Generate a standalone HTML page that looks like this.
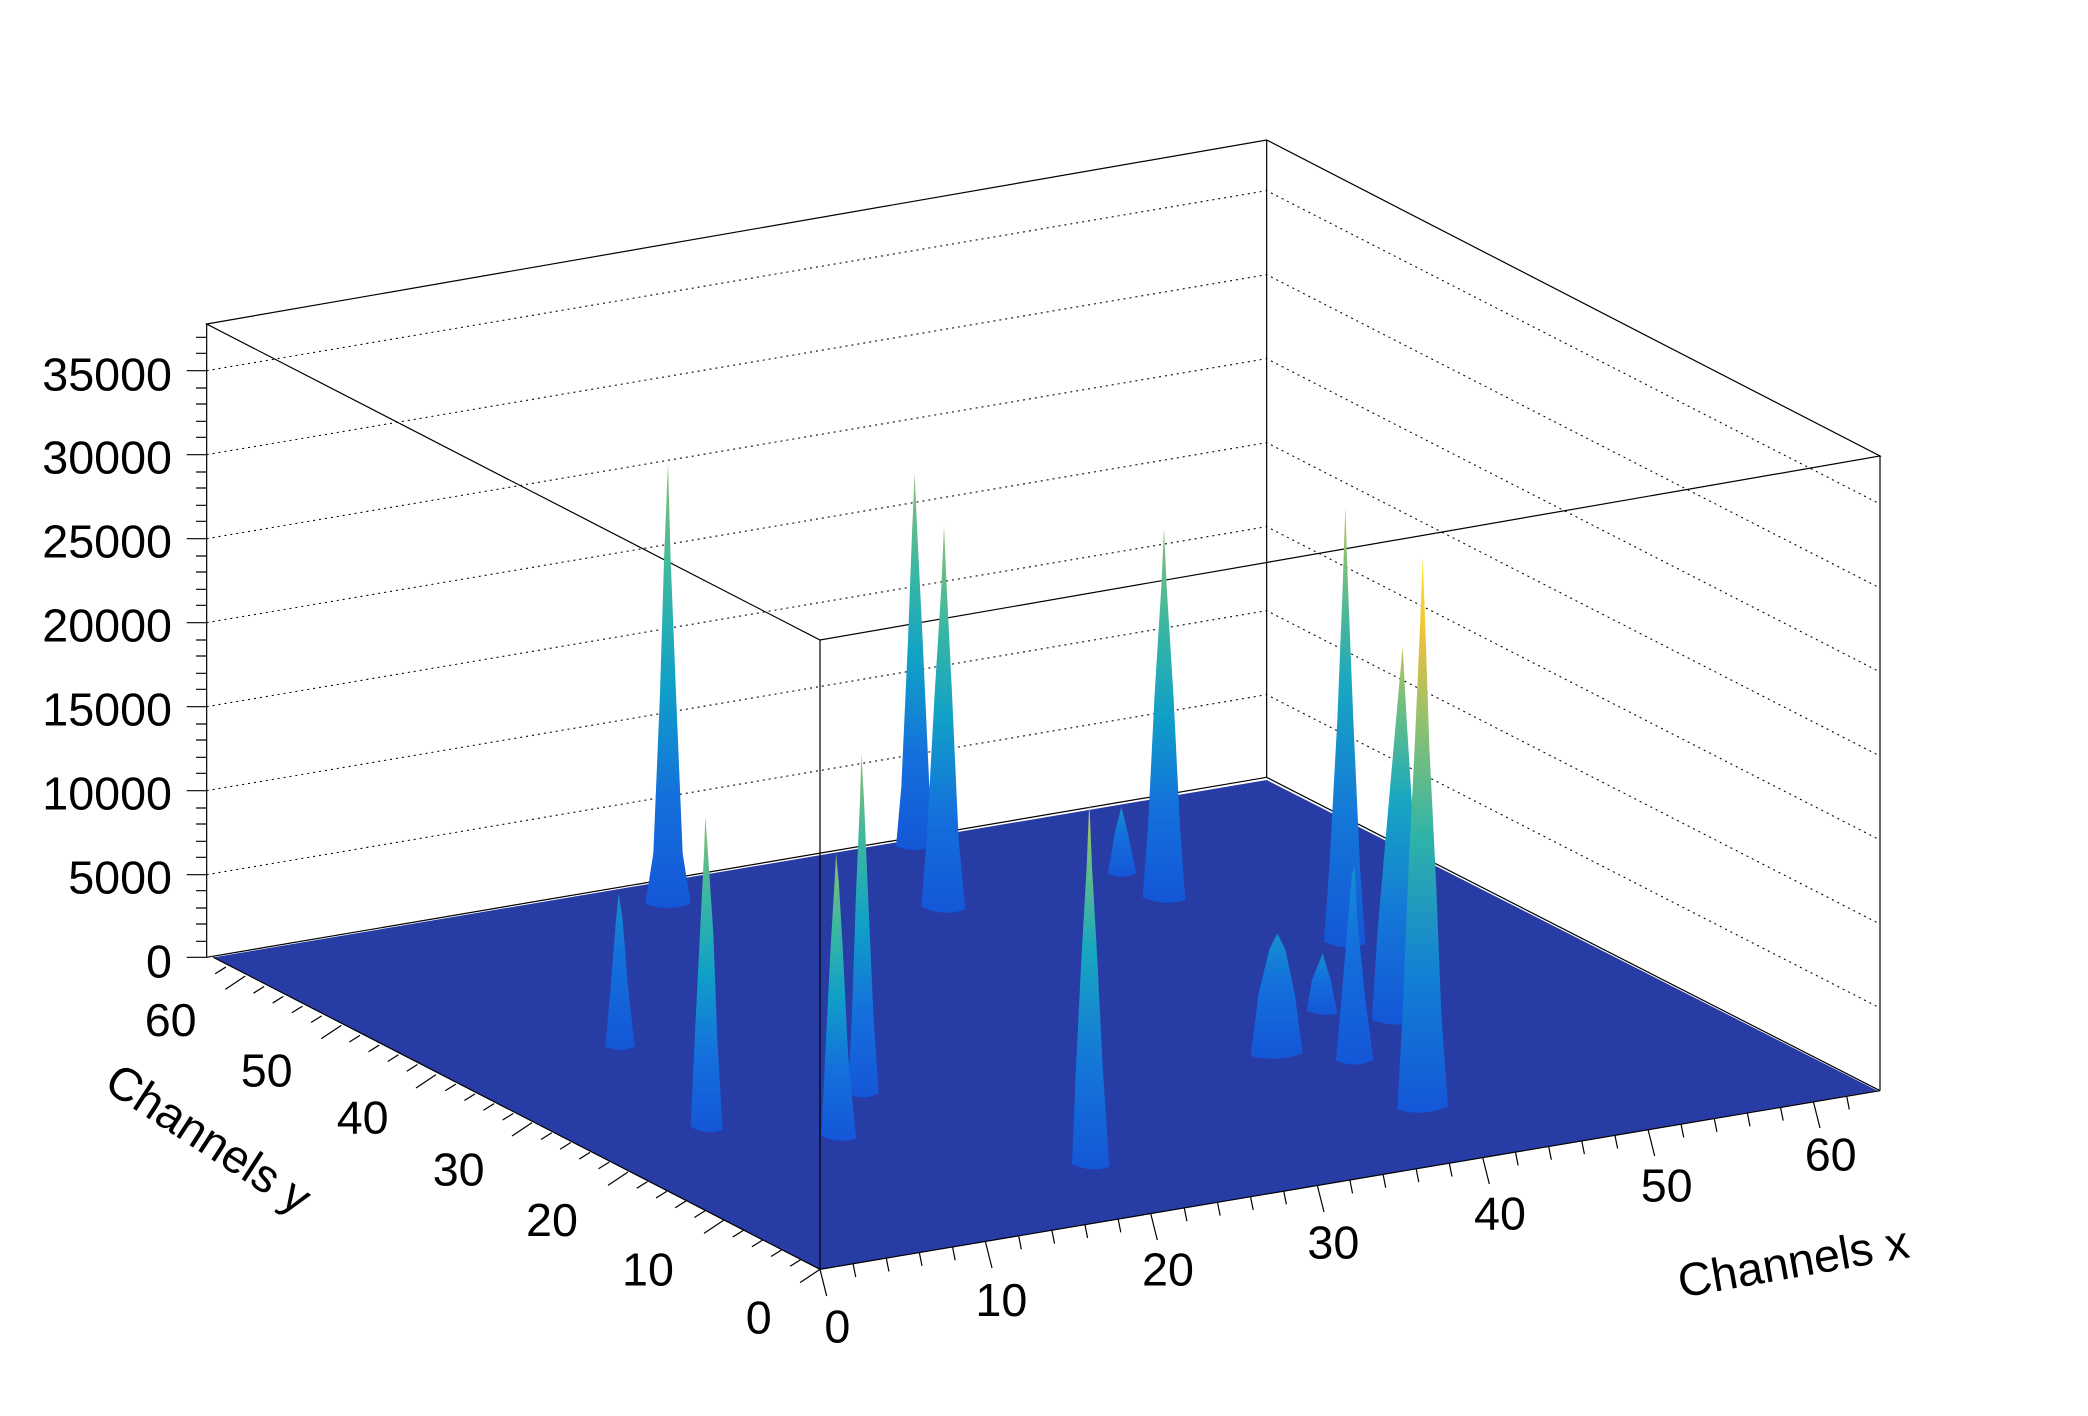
<!DOCTYPE html>
<html><head><meta charset="utf-8"><style>
html,body{margin:0;padding:0;background:#fff;}
svg{display:block;}
text{font-family:"Liberation Sans",Arial,sans-serif;fill:#000;}
</style></head><body>
<svg width="2088" height="1416" viewBox="0 0 1566 1062" preserveAspectRatio="none" xmlns="http://www.w3.org/2000/svg">
<defs>
<linearGradient id="g1" x1="0" y1="1" x2="0" y2="0">
<stop offset="0" stop-color="#1456d8"/><stop offset="0.25" stop-color="#1470dc"/><stop offset="0.5" stop-color="#10a0c8"/><stop offset="0.75" stop-color="#3cb8a0"/><stop offset="1" stop-color="#8cc070"/></linearGradient>
<linearGradient id="g2" x1="0" y1="1" x2="0" y2="0">
<stop offset="0" stop-color="#1456d8"/><stop offset="0.3" stop-color="#1478d8"/><stop offset="0.6" stop-color="#18a8c0"/><stop offset="0.85" stop-color="#70c080"/><stop offset="1" stop-color="#c8c050"/></linearGradient>
<linearGradient id="g3" x1="0" y1="1" x2="0" y2="0">
<stop offset="0" stop-color="#1456d8"/><stop offset="0.25" stop-color="#1280d4"/><stop offset="0.5" stop-color="#30b4a8"/><stop offset="0.7" stop-color="#90c070"/><stop offset="0.85" stop-color="#e8c040"/><stop offset="1" stop-color="#ffe820"/></linearGradient>
<linearGradient id="g4" x1="0" y1="1" x2="0" y2="0">
<stop offset="0" stop-color="#1456d8"/><stop offset="0.6" stop-color="#1470dc"/><stop offset="1" stop-color="#1490d0"/></linearGradient>
</defs>
<g stroke="#000" stroke-width="0.8" stroke-dasharray="1.5,3" fill="none">
<path d="M155,656 L950,521 L1410,756"/>
<path d="M155,593 L950,458 L1410,693"/>
<path d="M155,530 L950,395 L1410,630"/>
<path d="M155,467 L950,332 L1410,567"/>
<path d="M155,404 L950,269 L1410,504"/>
<path d="M155,341 L950,206 L1410,441"/>
<path d="M155,278 L950,143 L1410,378"/>
</g>
<g stroke="#000" stroke-width="0.9" fill="none">
<path d="M155,243 L950,105 L1410,342 L615,480 Z"/>
<path d="M155,243 L155,718 M950,105 L950,583 M1410,342 L1410,818"/>
<path d="M155,718 L950,583 L1410,818"/>
</g>
<polygon points="160,718 950,585 1408,818 615,952 160,718" fill="#283ca6"/>
<g id="peaks">
<path d="M484,678 L490,640 L495,520 L498,420 L501,347 L503,420 L507,520 L512,640 L518,678 Q501,684 484,678Z" fill="url(#g1)"/>
<path d="M672,635 L676,590 L681,480 L684,400 L686,355 L688,400 L692,480 L697,590 L700,635 Q686,640 672,635Z" fill="url(#g1)"/>
<path d="M691,680 L695,630 L701,520 L706,440 L708,395 L710,440 L714,520 L719,630 L724,682 Q707,688 691,680Z" fill="url(#g1)"/>
<path d="M831,655 L836,625 L841,605 L846,625 L852,655 Q841,660 831,655Z" fill="url(#g4)"/>
<path d="M857,673 L861,620 L866,520 L871,440 L873,396 L875,440 L880,520 L885,620 L889,675 Q873,680 857,673Z" fill="url(#g1)"/>
<path d="M993,706 L997,650 L1003,540 L1007,440 L1009,380 L1011,440 L1015,540 L1020,650 L1024,708 Q1008,714 993,706Z" fill="url(#g2)"/>
<path d="M454,785 L458,740 L462,690 L464,670 L467,690 L471,740 L476,785 Q465,790 454,785Z" fill="url(#g4)"/>
<path d="M518,845 L521,780 L525,700 L528,640 L529,612 L531,640 L535,700 L538,780 L542,847 Q530,852 518,845Z" fill="url(#g1)"/>
<path d="M636,820 L639,760 L642,670 L645,600 L646,565 L648,600 L651,670 L655,760 L659,820 Q647,826 636,820Z" fill="url(#g1)"/>
<path d="M616,852 L619,790 L623,710 L626,660 L627,640 L629,660 L632,710 L636,790 L642,854 Q629,858 616,852Z" fill="url(#g1)"/>
<path d="M938,792 L944,745 L952,712 L958,700 L964,712 L971,745 L977,790 Q958,797 938,792Z" fill="url(#g4)"/>
<path d="M980,758 L984,735 L992,715 L998,735 L1003,760 Q992,763 980,758Z" fill="url(#g4)"/>
<path d="M1002,795 L1006,750 L1011,690 L1014,655 L1016,650 L1018,690 L1024,750 L1030,795 Q1016,802 1002,795Z" fill="url(#g4)"/>
<path d="M1029,765 L1033,700 L1040,620 L1047,540 L1052,485 L1055,540 L1060,620 L1065,700 L1068,765 Q1048,772 1029,765Z" fill="url(#g2)"/>
<path d="M804,873 L807,800 L811,720 L815,650 L817,600 L819,650 L823,720 L827,800 L832,875 Q818,880 804,873Z" fill="url(#g2)"/>
<path d="M1048,832 L1052,760 L1056,660 L1061,560 L1065,470 L1067,418 L1069,470 L1072,560 L1077,660 L1081,760 L1086,830 Q1067,838 1048,832Z" fill="url(#g3)"/>
</g>
<line x1="615" y1="480" x2="615" y2="952" stroke="#000" stroke-width="0.9"/>
<g stroke="#000" stroke-width="0.9" fill="none">
<path d="M160,718 L615,952 L1410,818"/>
<path d="M155,718 L140,718 M155,656 L140,656 M155,593 L140,593 M155,530 L140,530 M155,467 L140,467 M155,404 L140,404 M155,341 L140,341 M155,278 L140,278"/>
<path d="M155,706 L147,706 M155,693 L147,693 M155,681 L147,681 M155,668 L147,668 M155,643 L147,643 M155,631 L147,631 M155,618 L147,618 M155,606 L147,606 M155,580 L147,580 M155,568 L147,568 M155,555 L147,555 M155,543 L147,543 M155,517 L147,517 M155,505 L147,505 M155,492 L147,492 M155,480 L147,480 M155,454 L147,454 M155,442 L147,442 M155,429 L147,429 M155,417 L147,417 M155,391 L147,391 M155,379 L147,379 M155,366 L147,366 M155,354 L147,354 M155,328 L147,328 M155,316 L147,316 M155,303 L147,303 M155,291 L147,291 M155,265 L147,265 M155,253 L147,253"/>
<path d="M615,952 L620,972 M739,931 L744,951 M863,910 L868,930 M988,889 L993,909 M1112,868 L1117,888 M1236,847 L1241,867 M1360,826 L1365,846"/>
<path d="M639.8,947.8 l2,10 M664.7,943.6 l2,10 M689.5,939.4 l2,10 M714.4,935.2 l2,10 M764,926.9 l2,10 M788.9,922.7 l2,10 M813.7,918.5 l2,10 M838.6,914.3 l2,10 M888.2,905.9 l2,10 M913.1,901.7 l2,10 M937.9,897.5 l2,10 M962.8,893.3 l2,10 M1012.4,885 l2,10 M1037.3,880.8 l2,10 M1062.1,876.6 l2,10 M1087,872.4 l2,10 M1136.6,864 l2,10 M1161.5,859.8 l2,10 M1186.3,855.6 l2,10 M1211.2,851.4 l2,10 M1260.8,843.1 l2,10 M1285.7,838.9 l2,10 M1310.5,834.7 l2,10 M1335.4,830.5 l2,10 M1385,822.1 l2,10"/>
<path d="M615,952 L600,962 M543,915 L528,925 M471,879 L456,889 M399,842 L384,852 M327,806 L312,816 M256,769 L241,779 M184,732 L169,742"/>
<path d="M600.6,944.7 l-8,5 M586.3,937.4 l-8,5 M571.9,930.1 l-8,5 M557.5,922.8 l-8,5 M528.8,908.1 l-8,5 M514.4,900.8 l-8,5 M500,893.5 l-8,5 M485.6,886.2 l-8,5 M456.9,871.6 l-8,5 M442.5,864.3 l-8,5 M428.1,856.9 l-8,5 M413.8,849.6 l-8,5 M385,835 l-8,5 M370.6,827.7 l-8,5 M356.3,820.4 l-8,5 M341.9,813.1 l-8,5 M313.1,798.4 l-8,5 M298.8,791.1 l-8,5 M284.4,783.8 l-8,5 M270,776.5 l-8,5 M241.3,761.9 l-8,5 M226.9,754.6 l-8,5 M212.5,747.3 l-8,5 M198.1,739.9 l-8,5 M169.4,725.3 l-8,5"/>
</g>
<g font-size="35" text-anchor="end">
<text x="129" y="733">0</text>
<text x="129" y="670">5000</text>
<text x="129" y="607">10000</text>
<text x="129" y="544">15000</text>
<text x="129" y="481">20000</text>
<text x="129" y="418">25000</text>
<text x="129" y="355">30000</text>
<text x="129" y="293">35000</text>
</g>
<g font-size="35" text-anchor="middle">
<text x="628" y="1007">0</text><text x="751" y="987">10</text><text x="876" y="964">20</text><text x="1000" y="944">30</text><text x="1125" y="922">40</text><text x="1250" y="901">50</text><text x="1373" y="878">60</text>
<text x="569" y="1000">0</text><text x="486" y="964">10</text><text x="414" y="927">20</text><text x="344" y="889">30</text><text x="272" y="850">40</text><text x="200" y="815">50</text><text x="128" y="777">60</text>
</g>
<text x="1347" y="958" font-size="35" text-anchor="middle" transform="rotate(-10 1347 958)">Channels x</text>
<text x="150" y="864" font-size="35" text-anchor="middle" transform="rotate(33 150 864)">Channels y</text>
</svg>
</body></html>
